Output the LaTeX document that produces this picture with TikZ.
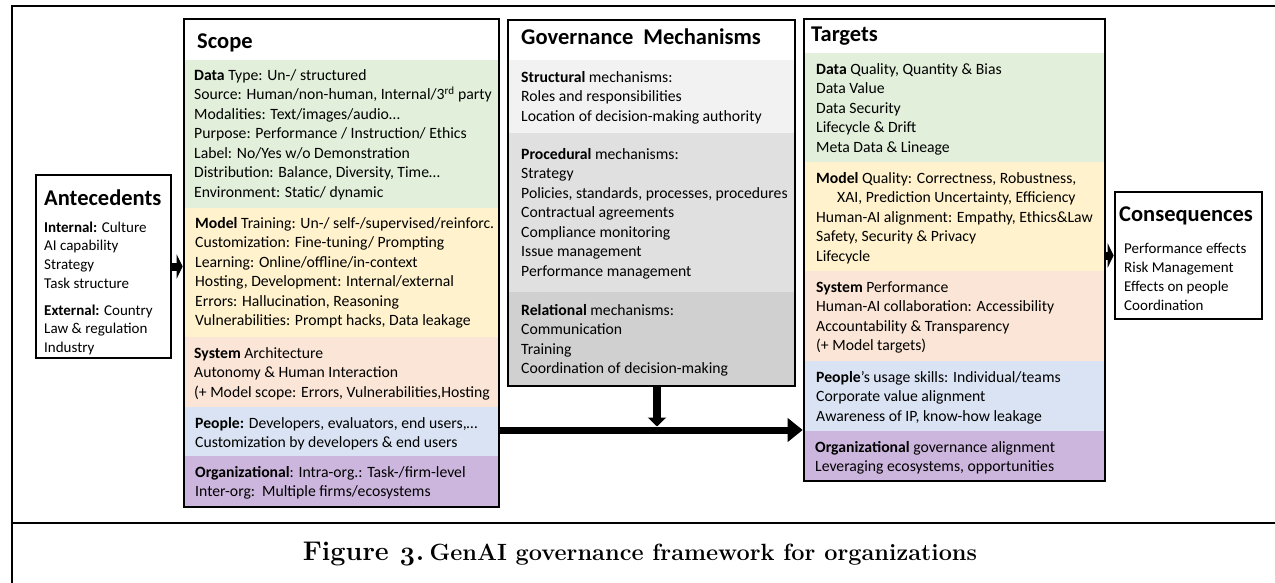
\documentclass[tikz,border=0pt]{standalone}
\usepackage{fontspec}
\setmainfont{Carlito}
\newfontfamily\capfont{Latin Modern Roman}[Numbers=OldStyle]
\usetikzlibrary{arrows.meta, positioning, calc, fit}

\definecolor{dataG}{HTML}{E2EFDA}
\definecolor{modelY}{HTML}{FFF2CC}
\definecolor{sysP}{HTML}{FBE5D6}
\definecolor{peopleB}{HTML}{DAE3F3}
\definecolor{orgV}{HTML}{CDB6DD}
\definecolor{govA}{HTML}{F2F2F2}
\definecolor{govB}{HTML}{E0E0E0}
\definecolor{govC}{HTML}{D0D0D0}

\newcommand{\fl}{\rule{0pt}{14pt}}

\begin{document}
\begin{tikzpicture}[x=1pt,y=-1pt,
  colbox/.style={draw, line width=2.6pt, inner sep=0pt},
  band/.style={inner sep=0pt, outer sep=0pt},
  hd/.style={anchor=base west, inner sep=0pt, font=\fontsize{22.5}{26}\selectfont\bfseries},
  txt/.style={anchor=north west, inner sep=0pt, align=left, font=\fontsize{15.7}{19.5}\selectfont},
  stxt/.style={anchor=north west, inner sep=0pt, align=left, font=\fontsize{15}{18.7}\selectfont},
  fat/.style={line width=7pt, -{Triangle[length=15pt,width=23pt]}},
  stub/.style={line width=8pt, -{Triangle[length=6pt,width=24pt]}}]
\useasboundingbox (0,0) rectangle (1275,583);
% frame
\draw[line width=2.5pt] (12,600) -- (12,6) -- (1290,6);
\draw[line width=2.5pt] (12,523) -- (1290,523);

% Antecedents
\node[colbox, fit={(36,175) (171,358)}] (ante) {};
\node[hd] (anteT) at (44,205) {Antecedents};
\node[stxt] (anteI) at (44,218) {\fl\textbf{Internal:} Culture\\ AI capability\\ Strategy\\ Task structure};
\node[stxt] (anteE) at (44,301) {\fl\textbf{External:} Country\\ Law \& regulation\\ Industry};

% Scope
\node[band, fill=dataG, fit={(184,60) (499,208)}] (scData) {};
\node[band, fill=modelY, fit={(184,208) (499,337)}] (scModel) {};
\node[band, fill=sysP, fit={(184,337) (499,407)}] (scSys) {};
\node[band, fill=peopleB, fit={(184,407) (499,456)}] (scPeople) {};
\node[band, fill=orgV, fit={(184,456) (499,507)}] (scOrg) {};
\node[colbox, fit={(184,19) (499,507)}] (scope) {};
\node[hd] (scopeT) at (197,49) {Scope};
\node[txt] (tData) at (194,66) {\fl\textbf{Data} Type: Un-/ structured\\ Source: Human/non-human, Internal/3\textsuperscript{rd} party\\ Modalities: Text/images/audio…\\ Purpose: Performance / Instruction/ Ethics\\ Label: No/Yes w/o Demonstration\\ Distribution: Balance, Diversity, Time…\\ Environment: Static/ dynamic};
\node[txt] (tModel) at (195,214) {\fl\textbf{Model} Training: Un-/ self-/supervised/reinforc.\\ Customization: Fine-tuning/ Prompting\\ Learning: Online/offline/in-context\\ Hosting, Development: Internal/external\\ Errors: Hallucination, Reasoning\\ Vulnerabilities: Prompt hacks, Data leakage};
\node[txt] (tSys) at (194,344) {\fl\textbf{System} Architecture\\ Autonomy \& Human Interaction\\ (+ Model scope: Errors, Vulnerabilities,Hosting};
\node[txt] (tPeople) at (195,414) {\fl\textbf{People:} Developers, evaluators, end users,…\\ Customization by developers \& end users};
\node[txt] (tOrg) at (195,463) {\fl\textbf{Organizational}: Intra-org.: Task-/firm-level\\ Inter-org:\ \ Multiple firms/ecosystems};

% Governance mechanisms
\node[band, fill=govA, fit={(508,60) (795,133)}] (gvStr) {};
\node[band, fill=govB, fit={(508,133) (795,292)}] (gvProc) {};
\node[band, fill=govC, fit={(508,292) (795,386)}] (gvRel) {};
\node[colbox, fit={(508,20) (795,386)}] (gov) {};
\node[hd] (govT) at (521,45) {Governance\ \ Mechanisms};
\node[txt] (tStr) at (521,68) {\fl\textbf{Structural} mechanisms:\\ Roles and responsibilities\\ Location of decision-making authority};
\node[txt] (tProc) at (521,145) {\fl\textbf{Procedural} mechanisms:\\ Strategy\\ Policies, standards, processes, procedures\\ Contractual agreements\\ Compliance monitoring\\ Issue management\\ Performance management};
\node[txt] (tRel) at (521,301) {\fl\textbf{Relational} mechanisms:\\ Communication\\ Training\\ Coordination of decision-making};

% Targets
\node[band, fill=dataG, fit={(804,53) (1105,162)}] (tgData) {};
\node[band, fill=modelY, fit={(804,162) (1105,271)}] (tgModel) {};
\node[band, fill=sysP, fit={(804,271) (1105,361)}] (tgSys) {};
\node[band, fill=peopleB, fit={(804,361) (1105,431)}] (tgPeople) {};
\node[band, fill=orgV, fit={(804,431) (1105,481)}] (tgOrg) {};
\node[colbox, fit={(804,19) (1105,481)}] (targ) {};
\node[hd] (targT) at (811,42) {Targets};
\node[txt] (gData) at (816,60) {\fl\textbf{Data} Quality, Quantity \& Bias\\ Data Value\\ Data Security\\ Lifecycle \& Drift\\ Meta Data \& Lineage};
\node[txt] (gModel) at (816,169) {\fl\textbf{Model} Quality: Correctness, Robustness,\\ \hspace*{21pt}XAI, Prediction Uncertainty, Efficiency\\ Human-AI alignment: Empathy, Ethics\&Law\\ Safety, Security \& Privacy\\ Lifecycle};
\node[txt] (gSys) at (816,278) {\fl\textbf{System} Performance\\ Human-AI collaboration: Accessibility\\ Accountability \& Transparency\\ (+ Model targets)};
\node[txt] (gPeople) at (816,368) {\fl\textbf{People}’s usage skills: Individual/teams\\ Corporate value alignment\\ Awareness of IP, know-how leakage};
\node[txt] (gOrg) at (815,438) {\fl\textbf{Organizational} governance alignment\\ Leveraging ecosystems, opportunities};

% Consequences
\node[colbox, fit={(1115,192) (1262,319)}] (cons) {};
\node[hd] (consT) at (1119,222) {Consequences};
\node[stxt, font=\fontsize{15}{19}\selectfont] (consL) at (1124,239) {\fl Performance effects\\ Risk Management\\ Effects on people\\ Coordination};

% arrows
\coordinate (join) at (657,430);
\draw[stub] (ante.east) -- (ante.east -| scope.west);
\draw[stub] (targ.east |- cons.west) -- (cons.west);
\draw[fat] (scope.east |- join) -- (targ.west |- join);
\draw[line width=8pt, -{Triangle[length=9pt,width=18pt]}] (gov.south -| join) -- ([yshift=3.5pt]join);

% caption
\node[font=\capfont\bfseries] (cap) at (640,554) {{\fontsize{27}{30}\selectfont Figure 3.} {\fontsize{23.5}{28}\selectfont GenAI governance framework for organizations}};
\end{tikzpicture}
\end{document}
